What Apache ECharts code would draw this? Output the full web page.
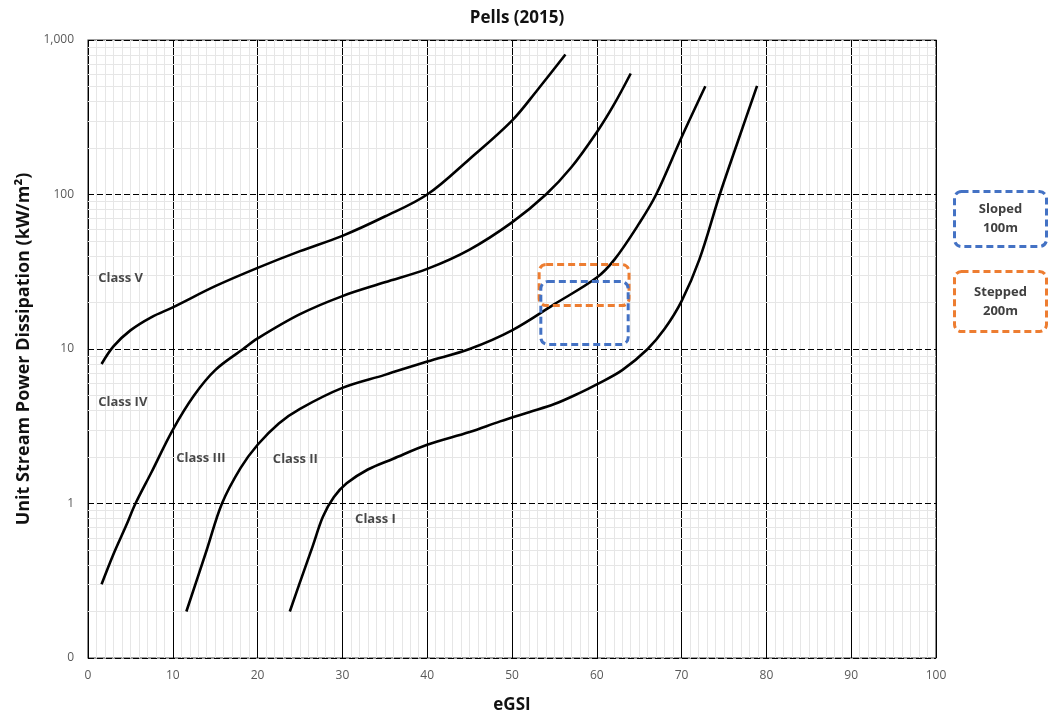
<!DOCTYPE html>
<html>
<head>
<meta charset="utf-8">
<script src="https://cdn.jsdelivr.net/npm/echarts@6/dist/echarts.min.js"></script>
<style>html,body{margin:0;padding:0;background:#fff}#c{width:1049px;height:714px}</style>
</head>
<body>
<div id="c"></div>
<script>
// Boundary curves [eGSI, unit stream power (kW/m2)]
const curveVIV = [[1.6,8.0],[3,10.4],[5,13.2],[7.5,16.1],[10,18.6],[15,25.5],[20,33.5],[25,43],[30,54],[35,72],[40,100],[45,170],[50,301],[53,475],[56.3,805]];
const curveIVIII = [[1.6,0.30],[3,0.47],[4.5,0.72],[5.6,1.0],[7.5,1.6],[10,3.0],[12.5,5.0],[15,7.3],[18.3,10],[20,11.7],[25,16.8],[30,22],[35,27],[40,33],[45,44],[50,66],[54,100],[57,150],[60,253],[62,380],[64,607]];
const curveIIIII = [[11.6,0.2],[14,0.5],[15.8,1.0],[18,1.7],[20,2.4],[22.5,3.3],[25,4.1],[30,5.6],[35,6.8],[40,8.3],[45,10],[50,13.2],[55,19.5],[60,29],[62.1,38],[65,65],[67,100],[70,235],[72.8,502]];
const curveIII = [[23.8,0.2],[25,0.31],[26.5,0.53],[27.7,0.82],[29,1.1],[30.5,1.35],[33,1.66],[36,1.95],[40,2.4],[45,2.9],[48.6,3.4],[52,3.9],[55,4.4],[58,5.2],[60,5.9],[63,7.3],[66,10],[68,13.5],[70,20.4],[72.1,38],[74.5,100],[76.5,210],[78.9,505]];

// Class labels [x, y, text]
const classLabels = [[1.2,28.6,'Class V'],[1.2,4.5,'Class IV'],[10.4,1.95,'Class III'],[21.8,1.93,'Class II'],[31.5,0.79,'Class I']];

// Dashed boxes [xMin, xMax, yMin, yMax]
const slopedBox = [53.4, 63.7, 10.7, 27.3];
const steppedBox = [53.2, 63.8, 19.1, 35.2];

const xTicks = [0,10,20,30,40,50,60,70,80,90,100];
const yTicks = [0.1,1,10,100,1000];
const yMinorLines = [0.2,0.3,0.4,0.5,0.6,0.7,0.8,0.9,2,3,4,5,6,7,8,9,20,30,40,50,60,70,80,90,200,300,400,500,600,700,800,900];

const FONT = '"Open Sans", "Noto Sans", sans-serif';
const BLUE = '#4472C4', ORANGE = '#ED7D31';

function curveSeries(name, data){
  return {name, type:'line', data, symbol:'none', smooth:0.35,
    lineStyle:{color:'#000', width:2.6}, z:8, silent:true};
}
function boxSeries(name, box, color){
  return {name, type:'custom', z:9, silent:true, data:[box],
    renderItem:(params, api)=>{
      const p1 = api.coord([api.value(0), api.value(3)]);
      const p2 = api.coord([api.value(1), api.value(2)]);
      return {type:'rect', shape:{x:p1[0], y:p1[1], width:p2[0]-p1[0], height:p2[1]-p1[1], r:7},
        style:{fill:'none', stroke:color, lineWidth:3, lineDash:[7,4]}};
    }};
}

const chart = echarts.init(document.getElementById('c'), null, {renderer:'canvas'});
chart.setOption({
  animation:false,
  backgroundColor:'#fff',
  title:{text:'Pells (2015)', left:512, top:5, textAlign:'center',
    textStyle:{fontFamily:FONT, fontWeight:'bold', fontSize:17, color:'#111'}},
  grid:{left:88, right:113, top:40, bottom:56, show:true, borderColor:'#404040', borderWidth:1.2,
    outerBoundsMode:'none', containLabel:false},
  xAxis:{type:'value', min:0, max:100, interval:10, z:3,
    name:'eGSI', nameLocation:'middle', nameGap:39,
    nameTextStyle:{fontFamily:FONT, fontWeight:'bold', fontSize:17, color:'#111'},
    axisLine:{show:false}, axisTick:{show:false},
    axisLabel:{fontFamily:FONT, fontSize:12, color:'#595959', margin:12},
    splitLine:{show:true, lineStyle:{color:'#000', width:1, type:'solid'}},
    minorTick:{show:false, splitNumber:10},
    minorSplitLine:{show:true, lineStyle:{color:'#e6e6e6', width:1}}},
  yAxis:{type:'log', logBase:10, min:0.1, max:1000, z:4,
    name:'Unit Stream Power Dissipation (kW/m²)', nameLocation:'middle', nameGap:54,
    nameTextStyle:{fontFamily:FONT, fontWeight:'bold', fontSize:18, color:'#111'},
    axisLine:{show:false}, axisTick:{show:false},
    axisLabel:{fontFamily:FONT, fontSize:12, color:'#595959', margin:14,
      formatter:v=> v < 1 ? '0' : Math.round(v).toLocaleString('en-US')},
    splitLine:{show:true, lineStyle:{color:'#000', width:1, type:[6,3]}}},
  graphic:[
    {type:'group', left:953, top:190, children:[
      {type:'rect', shape:{x:0,y:0,width:92,height:55,r:7}, style:{fill:'#fff', stroke:BLUE, lineWidth:3, lineDash:[7,4]}},
      {type:'text', x:46, y:27.5, style:{text:'Sloped\n100m', fill:'#404040', font:'bold 13px '+FONT, textAlign:'center', textVerticalAlign:'middle', lineHeight:19}}
    ]},
    {type:'group', left:953, top:270, children:[
      {type:'rect', shape:{x:0,y:0,width:92,height:60,r:7}, style:{fill:'#fff', stroke:ORANGE, lineWidth:3, lineDash:[7,4]}},
      {type:'text', x:46, y:30, style:{text:'Stepped\n200m', fill:'#404040', font:'bold 13px '+FONT, textAlign:'center', textVerticalAlign:'middle', lineHeight:19}}
    ]}
  ],
  series:[
    {type:'line', data:[], z:1, silent:true,
      markLine:{silent:true, symbol:'none', animation:false, label:{show:false},
        lineStyle:{color:'#e6e6e6', width:1, type:'solid'},
        data:yMinorLines.map(v=>({yAxis:v}))}},
    curveSeries('V/IV', curveVIV),
    curveSeries('IV/III', curveIVIII),
    curveSeries('III/II', curveIIIII),
    curveSeries('II/I', curveIII),
    boxSeries('Stepped 200m', steppedBox, ORANGE),
    boxSeries('Sloped 100m', slopedBox, BLUE),
    {type:'scatter', z:10, silent:true, symbolSize:0, data:classLabels,
      label:{show:true, position:'inside', align:'left', verticalAlign:'middle',
        formatter:p=>p.value[2], fontFamily:FONT, fontWeight:'bold', fontSize:13, color:'#1a1a1a'}}
  ]
});
</script>
</body>
</html>
